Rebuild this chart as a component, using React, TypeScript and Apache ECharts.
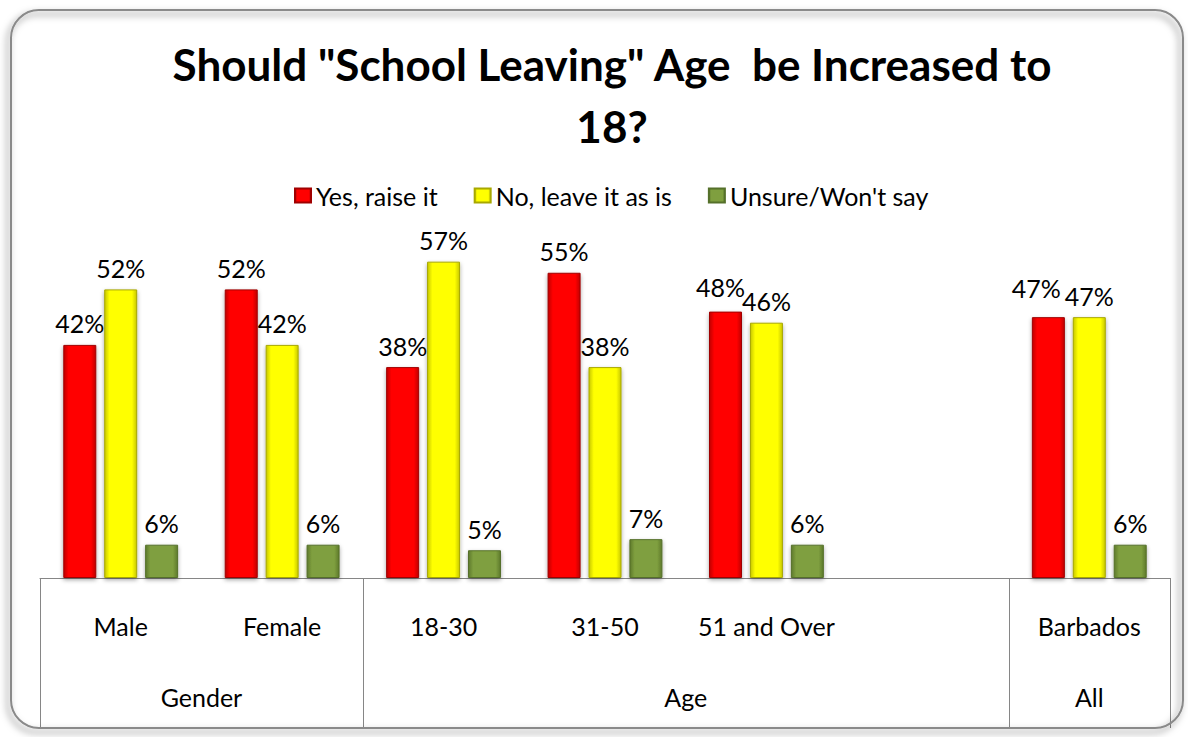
import React, { useEffect, useRef } from "react";
import * as echarts from "echarts";

const categories = ["Male", "Female", "18-30", "31-50", "51 and Over", "", "Barbados"];
const groups = [
  { name: "Gender", start: 0, end: 1 },
  { name: "Age", start: 2, end: 5 },
  { name: "All", start: 6, end: 6 },
];
const seriesNames = ["Yes, raise it", "No, leave it as is", "Unsure/Won't say"];
const yesValues = [42, 52, 38, 55, 48, null, 47];
const noValues = [52, 42, 57, 38, 46, null, 47];
const unsureValues = [6, 6, 5, 7, 6, null, 6];

const FONT = "Lato, 'Liberation Sans', sans-serif";

function grad(edge: string, mid: string) {
  return new echarts.graphic.LinearGradient(0, 0, 1, 0, [
    { offset: 0, color: edge },
    { offset: 0.15, color: mid },
    { offset: 0.85, color: mid },
    { offset: 1, color: edge },
  ]);
}

export default function App() {
  const ref = useRef<HTMLDivElement>(null);
  useEffect(() => {
    if (!ref.current) return;
    const chart = echarts.init(ref.current, null, { renderer: "svg" });
    const label = {
      show: true,
      position: "top",
      distance: 9,
      formatter: "{c}%",
      color: "#000",
      fontSize: 25,
      fontFamily: FONT,
    };
    // label nudges (like the reference's manually placed labels)
    const labelNudges: Record<string, [number, number]> = { "0-4": [-5, -3], "0-6": [-12, -8] };
    const mk = (si: number, data: (number | null)[], edge: string, mid: string, border: string) => ({
      name: seriesNames[si],
      type: "bar",
      data: data.map((v, i) => {
        const n = labelNudges[`${si}-${i}`];
        return n ? { value: v, label: { offset: n } } : v;
      }),
      barWidth: 33,
      barGap: "24%",
      itemStyle: {
        color: grad(edge, mid),
        borderColor: border,
        borderWidth: 1,
        shadowColor: "rgba(0,0,0,0.35)",
        shadowBlur: 4,
        shadowOffsetY: 2,
      },
      label,
    });
    const option: any = {
      animation: false,
      backgroundColor: "#fff",
      title: {
        text: 'Should "School Leaving" Age  be Increased to\n18?',
        left: 607,
        textAlign: "center",
        top: 28,
        textStyle: {
          fontSize: 44,
          fontWeight: "bold",
          fontFamily: FONT,
          color: "#000",
          lineHeight: 62,
        },
      },
      legend: {
        top: 178,
        left: 289,
        icon: "rect",
        itemWidth: 16,
        itemHeight: 14,
        itemGap: 36,
        textStyle: { fontSize: 25, fontFamily: FONT, color: "#000" },
        data: seriesNames,
      },
      grid: { left: 40, right: 18, top: 245, bottom: 159 },
      xAxis: {
        type: "category",
        data: categories,
        axisTick: { show: false },
        axisLine: { show: true, lineStyle: { color: "#868686", width: 1 } },
        axisLabel: { margin: 35, fontSize: 25, fontFamily: FONT, color: "#000", interval: 0 },
      },
      yAxis: { type: "value", min: 0, max: 60, show: false, splitLine: { show: false } },
      series: [
        mk(0, yesValues, "#C00000", "#FF0000", "#A00000"),
        mk(1, noValues, "#C8C800", "#FFFF00", "#A8A800"),
        mk(2, unsureValues, "#5E7A2C", "#7F9F3F", "#55702A"),
      ],
    };
    chart.setOption(option);

    const c0 = chart.convertToPixel({ xAxisIndex: 0 }, 0) as number;
    const c1 = chart.convertToPixel({ xAxisIndex: 0 }, 1) as number;
    const band = c1 - c0;
    const baseY = chart.convertToPixel({ yAxisIndex: 0 }, 0) as number;
    const bottomY = 728;
    const edgeX = (i: number) => c0 + (i - 0.5) * band;
    const graphics: any[] = [
      {
        type: "rect",
        shape: { x: 11, y: 10, width: 1172, height: 718, r: 28 },
        style: {
          fill: "none",
          stroke: "#8a8a8a",
          lineWidth: 2,
          shadowColor: "rgba(0,0,0,0.55)",
          shadowBlur: 7,
          shadowOffsetX: -3,
          shadowOffsetY: 4,
        },
        z: 100,
        silent: true,
      },
    ];
    const boundaries = new Set<number>();
    groups.forEach((g) => {
      boundaries.add(g.start);
      boundaries.add(g.end + 1);
      const cx = (edgeX(g.start) + edgeX(g.end + 1)) / 2;
      graphics.push({
        type: "text",
        x: cx,
        y: 697,
        style: {
          text: g.name,
          fontSize: 25,
          fontFamily: FONT,
          fill: "#000",
          align: "center",
          verticalAlign: "middle",
        },
      });
    });
    boundaries.forEach((b) => {
      const x = Math.round(edgeX(b)) + 0.5;
      graphics.push({
        type: "line",
        shape: { x1: x, y1: baseY, x2: x, y2: bottomY },
        style: { stroke: "#868686", lineWidth: 1 },
      });
    });
    chart.setOption({ graphic: graphics });
    return () => chart.dispose();
  }, []);
  return (
    <div
      ref={ref}
      style={{ position: "fixed", left: 0, top: 0, width: 1188, height: 737 }}
    />
  );
}
